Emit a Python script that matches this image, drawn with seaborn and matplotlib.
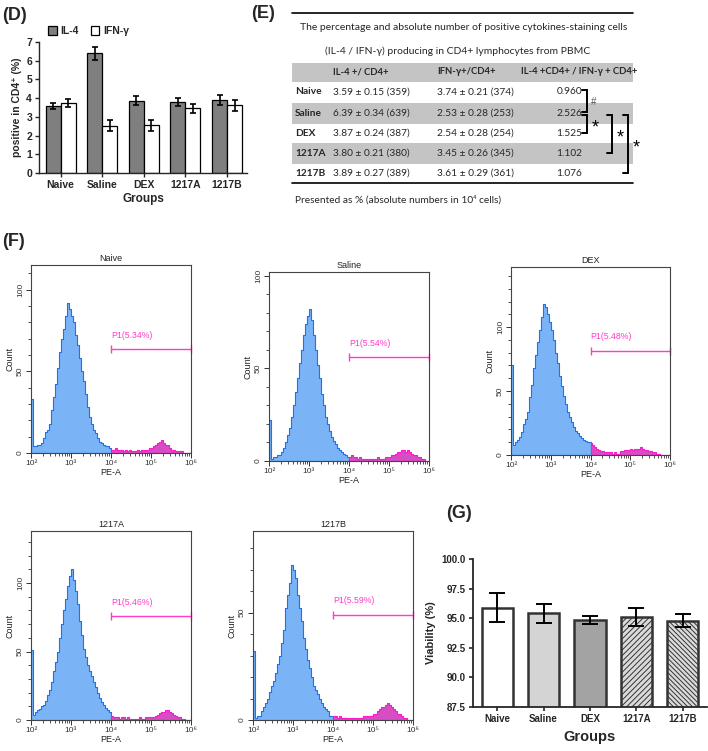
import numpy as np
import pandas as pd
import seaborn as sns
import matplotlib.pyplot as plt
from matplotlib.patches import Patch, Rectangle
from matplotlib import font_manager

sns.set_style("ticks")
plt.rcParams["font.family"] = ["Liberation Sans", "DejaVu Sans"]
plt.rcParams["hatch.linewidth"] = 0.7

groups = ["Naive", "Saline", "DEX", "1217A", "1217B"]

# (D) cytokine positive cells in CD4+ (%)
il4_mean = [3.59, 6.39, 3.87, 3.80, 3.89]
il4_sem = [0.15, 0.34, 0.24, 0.21, 0.27]
ifn_mean = [3.74, 2.53, 2.54, 3.45, 3.61]
ifn_sem = [0.21, 0.28, 0.28, 0.26, 0.29]

# (E) table
table_title = ["The percentage and absolute number of positive cytokines-staining cells",
               "(IL-4 / IFN-γ) producing in CD4+ lymphocytes from PBMC"]
table_header = ["IL-4 +/ CD4+", "IFN-γ+/CD4+", "IL-4 +CD4+ / IFN-γ + CD4+"]
il4_abs = [359, 639, 387, 380, 389]
ifn_abs = [374, 253, 254, 345, 361]
ratio = [0.960, 2.526, 1.525, 1.102, 1.076]
sig_pairs = [(0, 1, "#"), (1, 2, "*"), (1, 3, "*"), (1, 4, "*")]
table_note = "Presented as % (absolute numbers in 10\u2074 cells)"

# (F) PE-A histograms, counts per 0.05-decade bin from 10^2 to 10^6
hist_naive = [33, 4, 4, 5, 5, 6, 9, 13, 14, 18, 26, 34, 42, 52, 62, 70, 76, 84, 92, 88,
              84, 80, 72, 66, 58, 50, 44, 36, 28, 22, 18, 14, 12, 9, 7, 6, 5, 4, 4, 3,
              2, 2, 3, 2, 2, 2, 1, 2, 1, 2, 1, 1, 1, 2, 1, 2, 2, 2, 2, 3,
              3, 4, 5, 6, 7, 8, 6, 5, 5, 3, 2, 2, 1, 1, 1, 1, 0, 0, 0, 0]
hist_saline = [22, 1, 2, 2, 3, 3, 5, 7, 10, 14, 18, 24, 30, 37, 45, 53, 60, 68, 74, 78,
               82, 76, 68, 60, 52, 45, 36, 30, 24, 20, 16, 13, 11, 9, 7, 6, 5, 4, 3, 2,
               2, 3, 2, 2, 1, 2, 1, 1, 1, 1, 1, 1, 1, 1, 2, 1, 1, 1, 2, 2,
               2, 3, 3, 4, 5, 5, 6, 6, 5, 6, 5, 4, 3, 3, 2, 2, 1, 1, 0, 0]
hist_dex = [70, 8, 10, 12, 14, 18, 24, 28, 34, 45, 55, 68, 78, 88, 98, 108, 118, 116, 110, 104,
            98, 90, 80, 72, 62, 54, 46, 40, 34, 30, 26, 22, 19, 17, 15, 13, 12, 11, 10, 10,
            9, 8, 6, 5, 4, 3, 3, 2, 2, 2, 2, 1, 2, 1, 1, 3, 3, 4, 4, 4,
            5, 4, 5, 5, 5, 6, 5, 4, 4, 3, 3, 2, 2, 1, 1, 0, 0, 0, 0, 0]
hist_1217a = [51, 4, 6, 7, 8, 10, 11, 14, 18, 22, 28, 36, 42, 50, 60, 70, 80, 88, 98, 105,
              110, 102, 94, 85, 72, 62, 52, 46, 40, 36, 32, 28, 24, 20, 16, 13, 11, 9, 7, 6,
              3, 2, 2, 2, 1, 2, 2, 1, 2, 1, 1, 1, 1, 1, 2, 1, 1, 2, 2, 2,
              2, 2, 3, 4, 5, 6, 6, 7, 7, 6, 5, 4, 3, 2, 2, 1, 1, 0, 0, 0]
hist_1217b = [32, 1, 2, 2, 4, 6, 8, 10, 13, 16, 18, 22, 26, 30, 36, 42, 52, 58, 64, 72,
              70, 66, 58, 52, 46, 38, 33, 28, 24, 20, 16, 14, 12, 10, 8, 6, 5, 4, 2, 2,
              2, 2, 1, 2, 1, 1, 1, 1, 1, 1, 1, 1, 1, 1, 1, 2, 2, 2, 2, 2,
              3, 3, 4, 5, 6, 6, 7, 8, 7, 6, 5, 4, 3, 3, 2, 1, 1, 0, 0, 0]
gate_pct = [5.34, 5.54, 5.48, 5.46, 5.59]

# (G) viability (%)
viability = [95.9, 95.4, 94.85, 95.13, 94.8]
viability_err = [1.25, 0.82, 0.3, 0.75, 0.52]

W, H = 708, 751
fig = plt.figure(figsize=(W / 100, H / 100), dpi=100)


def add_px_axes(l, t, r, b):
    return fig.add_axes([l / W, 1 - b / H, (r - l) / W, (b - t) / H])


def panel_label(x, y, s):
    fig.text(x / W, 1 - y / H, s, fontsize=13, fontweight="bold", va="center", ha="left")


# ---------------- (D) ----------------
ax_d = add_px_axes(39, 42, 247, 173)
df_d = pd.DataFrame({
    "group": groups * 2,
    "cyt": ["IL-4"] * 5 + ["IFN-γ"] * 5,
    "value": il4_mean + ifn_mean,
})
sns.barplot(data=df_d, x="group", y="value", hue="cyt", palette=["#7f7f7f", "white"],
            width=0.72, edgecolor="black", linewidth=0.9, errorbar=None, legend=False, ax=ax_d)
for cont, sems in zip(ax_d.containers, [il4_sem, ifn_sem]):
    xs = [b.get_x() + b.get_width() / 2 for b in cont]
    ys = [b.get_height() for b in cont]
    ax_d.errorbar(xs, ys, yerr=sems, fmt="none", ecolor="black", elinewidth=1.2,
                  capsize=2.5, capthick=1.2)
ax_d.set_xlim(-0.52, 4.48)
ax_d.set_ylim(0, 7)
ax_d.set_yticks(range(8))
sns.despine(ax=ax_d)
ax_d.tick_params(length=3, width=1, labelsize=7.5, pad=2)
for lab in ax_d.get_xticklabels() + ax_d.get_yticklabels():
    lab.set_fontweight("bold")
ax_d.set_xlabel("Groups", fontsize=8.5, fontweight="bold", labelpad=2)
ax_d.set_ylabel("positive in CD4\u207a (%)", fontsize=7.5, fontweight="bold", labelpad=3)
for sp in ax_d.spines.values():
    sp.set_linewidth(1)
handles = [Patch(facecolor="#7f7f7f", edgecolor="black", lw=0.9),
           Patch(facecolor="white", edgecolor="black", lw=0.9)]
leg = ax_d.legend(handles, ["IL-4", "IFN-γ"], ncol=2, frameon=False, loc="center left",
                  bbox_to_anchor=(43 / W, 1 - 31 / H), bbox_transform=fig.transFigure,
                  borderpad=0, handlelength=0.8, handleheight=0.95, handletextpad=0.4,
                  columnspacing=1.1, prop={"size": 7.5, "weight": "bold"})
panel_label(2, 16, "(D)")

# ---------------- (E) ----------------
avail = {f.name for f in font_manager.fontManager.ttflist}
tfont = "Liberation Sans Narrow" if "Liberation Sans Narrow" in avail else "Lato"
ax_e = fig.add_axes([240 / W, 1 - 210 / H, 468 / W, 210 / H])
ax_e.set_xlim(240, 708)
ax_e.set_ylim(210, 0)
ax_e.axis("off")
tl, tr = 292, 633
ax_e.plot([tl, tr], [13, 13], color="black", lw=1.2)
ax_e.plot([tl, tr], [183, 183], color="black", lw=1.2)
ax_e.text(464, 27, table_title[0], family=tfont, fontsize=7.5, ha="center", va="center")
ax_e.text(458, 51, table_title[1], family=tfont, fontsize=7.5, ha="center", va="center")
ax_e.add_patch(Rectangle((tl, 63), tr - tl, 18.5, color="#c4c4c4", lw=0))
for x, s in zip([333, 437, 521], table_header):
    ax_e.text(x, 72, s, family=tfont, fontsize=6.8, fontweight="bold", ha="left", va="center")
row_y = [92, 113, 133, 153, 173]
for i, g in enumerate(groups):
    y = row_y[i]
    if i % 2 == 1:
        ax_e.add_patch(Rectangle((tl, y - 10.5), tr - tl, 21, color="#c4c4c4", lw=0))
    ax_e.text(295, y, g, family=tfont, fontsize=7.3, fontweight="bold", va="center")
    ax_e.text(333, y, f"{il4_mean[i]:.2f} ± {il4_sem[i]:.2f} ({il4_abs[i]})",
              family=tfont, fontsize=7.3, va="center")
    ax_e.text(437, y, f"{ifn_mean[i]:.2f} ± {ifn_sem[i]:.2f} ({ifn_abs[i]})",
              family=tfont, fontsize=7.3, va="center")
    ax_e.text(582, y, f"{ratio[i]:.3f}", family=tfont, fontsize=7.3, va="center", ha="right")
ax_e.text(295, 200, table_note, family=tfont, fontsize=7.3, va="center")
bx = [587, 587, 612, 628]
for (r0, r1, sym), x in zip(sig_pairs, bx):
    y0 = row_y[r0] + (2 if r0 == 1 else -2)
    y1 = row_y[r1] + (2 if r1 == 1 else 0)
    if sym == "#":
        y1 = row_y[r1] - 1
    ax_e.plot([x - 5, x, x, x - 5], [y0, y0, y1, y1], color="black", lw=1.4,
              solid_joinstyle="miter")
    if sym == "#":
        ax_e.text(x + 4, (y0 + y1) / 2 + 1, sym, fontsize=7, color="#555555", va="center")
    else:
        ax_e.text(x + 5, (y0 + y1) / 2 + 4, sym, fontsize=13, color="black", va="center")
panel_label(251, 14, "(E)")

# ---------------- (F) ----------------
log_edges = np.round(np.arange(2, 6.0001, 0.05), 2)
centers = (log_edges[:-1] + log_edges[1:]) / 2
split = 40
f_specs = [
    ("Naive", hist_naive, (31, 265, 191, 453), 115, 63.5),
    ("Saline", hist_saline, (269, 272, 429, 461), 102, 56),
    ("DEX", hist_dex, (511, 267, 670, 455), 147, 81.5),
    ("1217A", hist_1217a, (31, 531, 191, 720), 138, 76),
    ("1217B", hist_1217b, (253, 531, 413, 720), 88, 49),
]
minor_x = [np.log10(k * 10 ** n) for n in range(2, 6) for k in range(2, 10)]
for (name, counts, box, ytop, gate_y), pct in zip(f_specs, gate_pct):
    ax = add_px_axes(*box)
    df_h = pd.DataFrame({"pe": centers, "count": counts})
    sns.histplot(data=df_h.iloc[:split], x="pe", weights="count",
                 bins=list(log_edges[:split + 1]),
                 element="step", fill=True, facecolor="#7ab3f6", edgecolor="#1f72ee",
                 linewidth=0.8, alpha=1, ax=ax)
    sns.histplot(data=df_h.iloc[split:], x="pe", weights="count",
                 bins=list(log_edges[split:]),
                 element="step", fill=True, facecolor="#d84cc4", edgecolor="#ff18d0",
                 linewidth=0.8, alpha=1, ax=ax)
    ax.set_xlim(2, 6)
    ax.set_ylim(0, ytop)
    ax.set_xticks([2, 3, 4, 5, 6])
    ax.set_xticklabels(["10\u00b2", "10\u00b3", "10\u2074", "10\u2075", "10\u2076"])
    ax.set_xticks(minor_x, minor=True)
    ax.set_yticks([v for v in (0, 50, 100) if v <= ytop])
    ax.set_yticks(np.arange(0, ytop, 10), minor=True)
    ax.tick_params(which="major", length=3.5, width=0.7, labelsize=6, colors="#333333", pad=1.5)
    ax.tick_params(which="minor", length=2, width=0.6, colors="#333333")
    ax.tick_params(axis="y", labelrotation=90)
    for lab in ax.get_yticklabels():
        lab.set_va("center")
    for sp in ax.spines.values():
        sp.set_color("#444444")
        sp.set_linewidth(0.8)
    ax.set_title(name, fontsize=6.5, pad=3, color="#222222")
    ax.set_xlabel("PE-A", fontsize=6.5, labelpad=1, color="#222222")
    ax.set_ylabel("Count", fontsize=6.5, labelpad=2, color="#222222")
    ax.plot([4, 6], [gate_y, gate_y], color="#ff3cc8", lw=1, clip_on=False)
    ax.plot([4, 6], [gate_y, gate_y], ls="none", marker="|", ms=6, mew=1,
            color="#ff3cc8", clip_on=False)
    ax.annotate(f"P1({pct:.2f}%)", (4, gate_y), xytext=(0, 10), textcoords="offset points",
                fontsize=6.3, color="#ff3cc8", ha="left", va="center")
panel_label(2, 242, "(F)")

# ---------------- (G) ----------------
ax_g = add_px_axes(473, 559, 707, 707)
g_colors = ["white", "#d4d4d4", "#a3a3a3", "#dadada", "#dadada"]
g_hatch = [None, None, None, "//////", "\\\\\\\\\\\\\\"]
sns.barplot(x=groups, y=viability, hue=groups, palette=g_colors, legend=False, width=0.67,
            edgecolor="#333333", linewidth=1.8, ax=ax_g)
for cont, h in zip(ax_g.containers, g_hatch):
    for bar in cont:
        if h:
            bar.set_hatch(h)
xs = [c[0].get_x() + c[0].get_width() / 2 for c in ax_g.containers]
ax_g.errorbar(xs, viability, yerr=viability_err, fmt="none", ecolor="black", elinewidth=1.4,
              capsize=6, capthick=1.4)
ax_g.set_xlim(-0.52, 4.52)
ax_g.set_ylim(87.5, 100)
ax_g.set_yticks([87.5, 90, 92.5, 95, 97.5, 100])
ax_g.set_yticklabels([f"{v:.1f}" for v in [87.5, 90, 92.5, 95, 97.5, 100]])
sns.despine(ax=ax_g)
for sp in ax_g.spines.values():
    sp.set_linewidth(1.3)
ax_g.tick_params(length=3, width=1.2, labelsize=7, pad=2)
for lab in ax_g.get_xticklabels() + ax_g.get_yticklabels():
    lab.set_fontweight("bold")
ax_g.set_xlabel("Groups", fontsize=10.5, fontweight="bold", labelpad=4)
ax_g.set_ylabel("Viability (%)", fontsize=8, fontweight="bold", labelpad=4)
panel_label(446, 513, "(G)")

fig.savefig("out.png", dpi=100)
